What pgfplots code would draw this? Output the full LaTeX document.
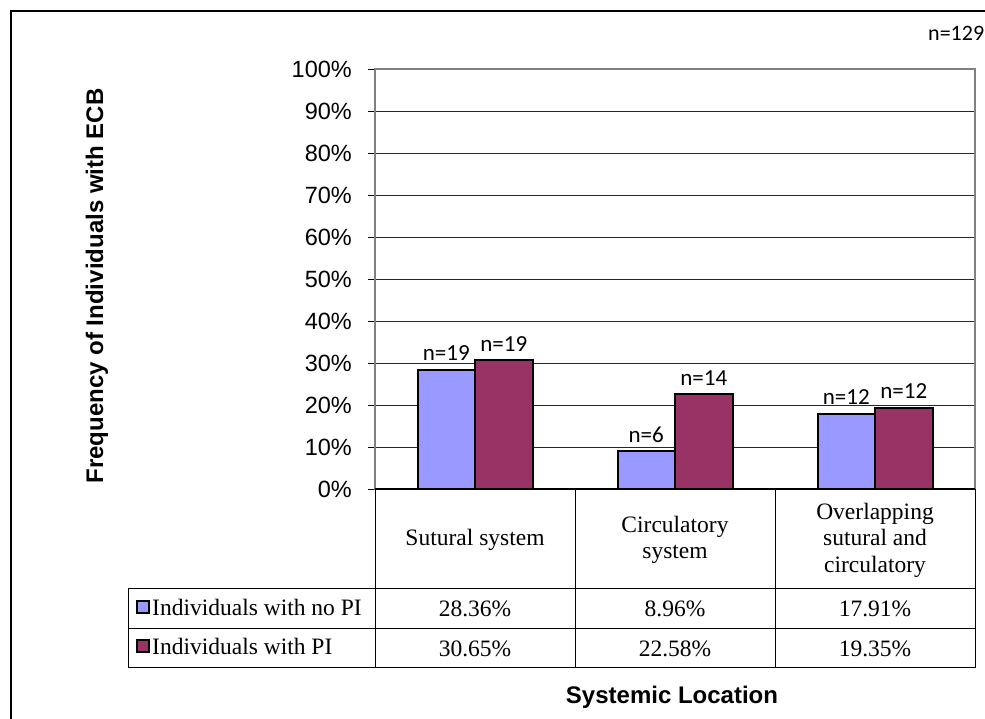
\documentclass[border=0pt]{standalone}
\usepackage{fontspec}
\setmainfont{Liberation Serif}
\newfontfamily\arial{Liberation Sans}
\newfontfamily\calibri{Carlito}
\usepackage{pgfplots}
\usepackage{pgfplotstable}
\pgfplotsset{compat=1.18}

\definecolor{noPI}{HTML}{9999FF}
\definecolor{withPI}{HTML}{993366}
\definecolor{borderGray}{HTML}{808080}

% frequency of ECB (%) and group sizes per systemic location
\pgfplotstableread{
x   noPI   PI     nNo nPI
0.5 28.36  30.65  19  19
1.5 8.96   22.58  6   14
2.5 17.91  19.35  12  12
}\datatable

\begin{document}
\begin{tikzpicture}[x=1pt,y=1pt]
\path[use as bounding box] (0,0) rectangle (985,719);
\clip (0,0) rectangle (985,719);
\fill[white] (0,0) rectangle (985,719);

% chart area border
\draw[line width=1.6pt] (11,-5) -- (11,708) -- (1000,708);
\node[anchor=west, inner sep=0pt, font=\calibri\fontsize{22}{26}\selectfont] at (928,686) {n=129};

\begin{axis}[
  at={(375pt,230pt)}, anchor=south west, scale only axis,
  width=600pt, height=420pt,
  xmin=0, xmax=3, ymin=0, ymax=100,
  ybar=0pt,
  xtick=\empty,
  ytick={0,10,...,100},
  yticklabel={\pgfmathprintnumber{\tick}\%},
  /pgf/number format/assume math mode=true,
  yticklabel style={font=\arial\fontsize{23.5}{28}\selectfont, anchor=east, inner sep=0pt, xshift=-16pt},
  ytick pos=left, tick align=outside, major tick length=7pt,
  tick style={black, line width=0.8pt},
  ymajorgrids, major grid style={black!85, line width=0.8pt},
  axis line style={borderGray, line width=1.6pt},
  point meta=explicit symbolic,
  nodes near coords={n=\pgfplotspointmeta},
  nodes near coords style={font=\calibri\fontsize{23}{27}\selectfont, anchor=base, inner sep=0pt, yshift=9pt, black},
  clip=false,
]
\addplot[fill=noPI, draw=black, line width=2pt, bar width=0.2875, bar shift=-0.14375]
  table[x=x, y=noPI, meta=nNo] {\datatable};
\addplot[fill=withPI, draw=black, line width=2pt, bar width=0.2875, bar shift=0.14375]
  table[x=x, y=PI, meta=nPI] {\datatable};
\draw[black, line width=1.2pt] (rel axis cs:0,0) -- (rel axis cs:1,0);
\end{axis}

% data table below the plot area
\begin{scope}[line width=1pt]
  \draw (375,230) -- (375,51);
  \draw (575,230) -- (575,51);
  \draw (775,230) -- (775,51);
  \draw (975,230) -- (975,51);
  \draw (128,130) -- (975,130);
  \draw (128,90) -- (975,90);
  \draw (128,51) -- (975,51);
  \draw (128,130) -- (128,51);
\end{scope}

\begin{scope}[font=\fontsize{23.5}{26.5}\selectfont]
  \node[align=center] at (475,179) {Sutural system};
  \node[align=center] at (675,179) {Circulatory\\system};
  \node[align=center] at (875,179) {Overlapping\\sutural and\\circulatory};

  \draw[fill=noPI, line width=1.6pt] (137,106) rectangle (149,118);
  \draw[fill=withPI, line width=1.6pt] (137,67) rectangle (149,79);
  \node[anchor=base west, inner sep=0pt] at (152,103) {Individuals with no PI};
  \node[anchor=base west, inner sep=0pt] at (152,64) {Individuals with PI};

  \foreach \r/\cx in {0/475,1/675,2/875} {
    \pgfplotstablegetelem{\r}{noPI}\of\datatable
    \node[anchor=base, inner sep=0pt] at (\cx,102) {\pgfplotsretval\%};
    \pgfplotstablegetelem{\r}{PI}\of\datatable
    \node[anchor=base, inner sep=0pt] at (\cx,62) {\pgfplotsretval\%};
  }
\end{scope}

% axis titles
\node[font=\arial\bfseries\fontsize{24}{28}\selectfont] at (672,22) {Systemic Location};
\node[rotate=90, font=\arial\bfseries\fontsize{24}{28}\selectfont] at (97,433) {Frequency of Individuals with ECB};
\end{tikzpicture}
\end{document}
